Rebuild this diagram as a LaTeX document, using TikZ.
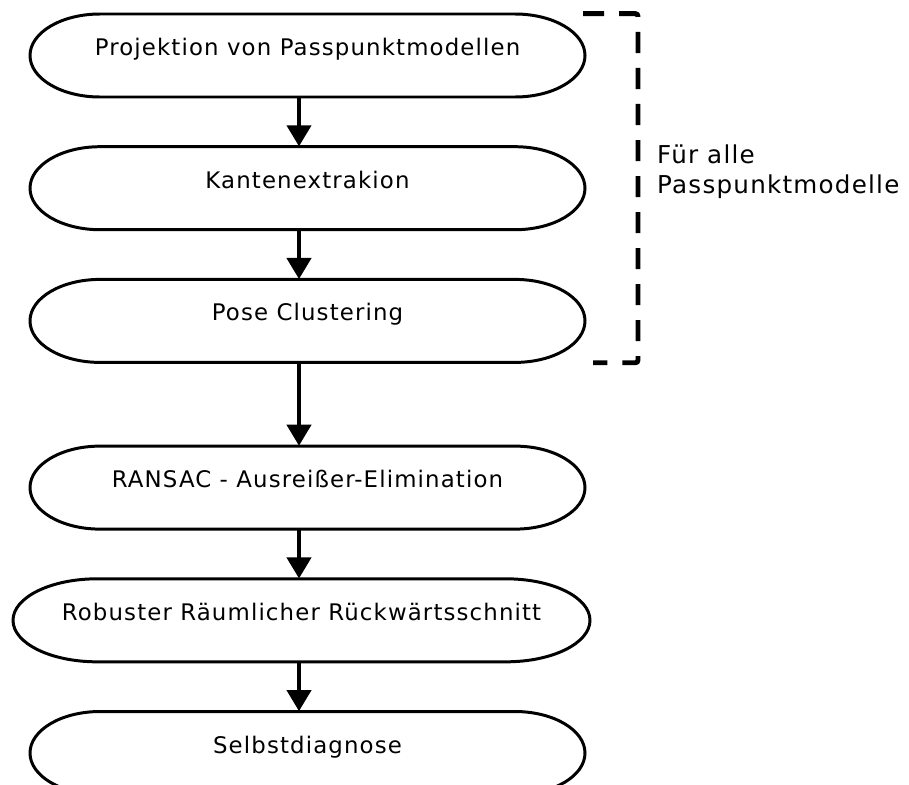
\documentclass[tikz,border=0pt]{standalone}
\usepackage{fontspec}
\setmainfont{DejaVu Sans}[LetterSpace=5]
\usetikzlibrary{arrows.meta, positioning, calc}

\begin{document}
\begin{tikzpicture}[
    node distance=0.98cm,
    font=\fontsize{13}{15}\selectfont,
    proc/.style={rectangle, inner sep=0pt, minimum height=1.66cm, text height=0pt, text depth=0pt},
    outline/.style={draw=black, line width=1.7pt},
    line/.style={draw=black, line width=2.3pt, -{Triangle[width=13.7pt, length=12pt]}},
    group/.style={draw=black, line width=2.8pt, dash pattern=on 12pt off 8.5pt, rounded corners=1.5pt}
]
    \useasboundingbox (0,0) rectangle (18.18,-15.7);

    \node [proc] (proj) at (6.15,-1.11) {Projektion von Passpunktmodellen};
    \node [proc, below=of proj] (kant) {Kantenextrakion};
    \node [proc, below=of kant] (pose) {Pose Clustering};
    \node [proc, below=1.66cm of pose] (ransac) {RANSAC - Ausreißer-Elimination};
    \node [proc, below=of ransac, xshift=-0.12cm] (rueck) {Robuster Räumlicher Rückwärtsschnitt};
    \node [proc, below=of rueck, xshift=0.12cm] (selbst) {Selbstdiagnose};

    % terminator outlines
    \foreach \n/\w/\r in {proj/4.15/1.4, kant/4.15/1.4, pose/4.15/1.4, ransac/4.15/1.4, rueck/4.09/1.68, selbst/4.15/1.4}
        \draw [outline] ($(\n.center)+(-\w,0.83)$) -- ++(2*\w,0)
            arc [start angle=90, end angle=-90, x radius=\r, y radius=0.83]
            -- ++(-2*\w,0)
            arc [start angle=270, end angle=90, x radius=\r, y radius=0.83] -- cycle;

    \coordinate (ax) at (5.98,0);
    \foreach \a/\b in {proj/kant, kant/pose, pose/ransac, ransac/rueck, rueck/selbst}
        \path [line] (\a.south -| ax) -- (\b.north -| ax);

    % Klammer
    \draw [group] ([xshift=5.51cm]proj.north) -| ([xshift=6.61cm]pose.south) -- ++(-0.9,0);
    \node [anchor=west, align=left, font=\fontsize{14}{17}\selectfont] (lbl) at (13.02,-3.44) {Für alle\\Passpunktmodelle};

\end{tikzpicture}
\end{document}
